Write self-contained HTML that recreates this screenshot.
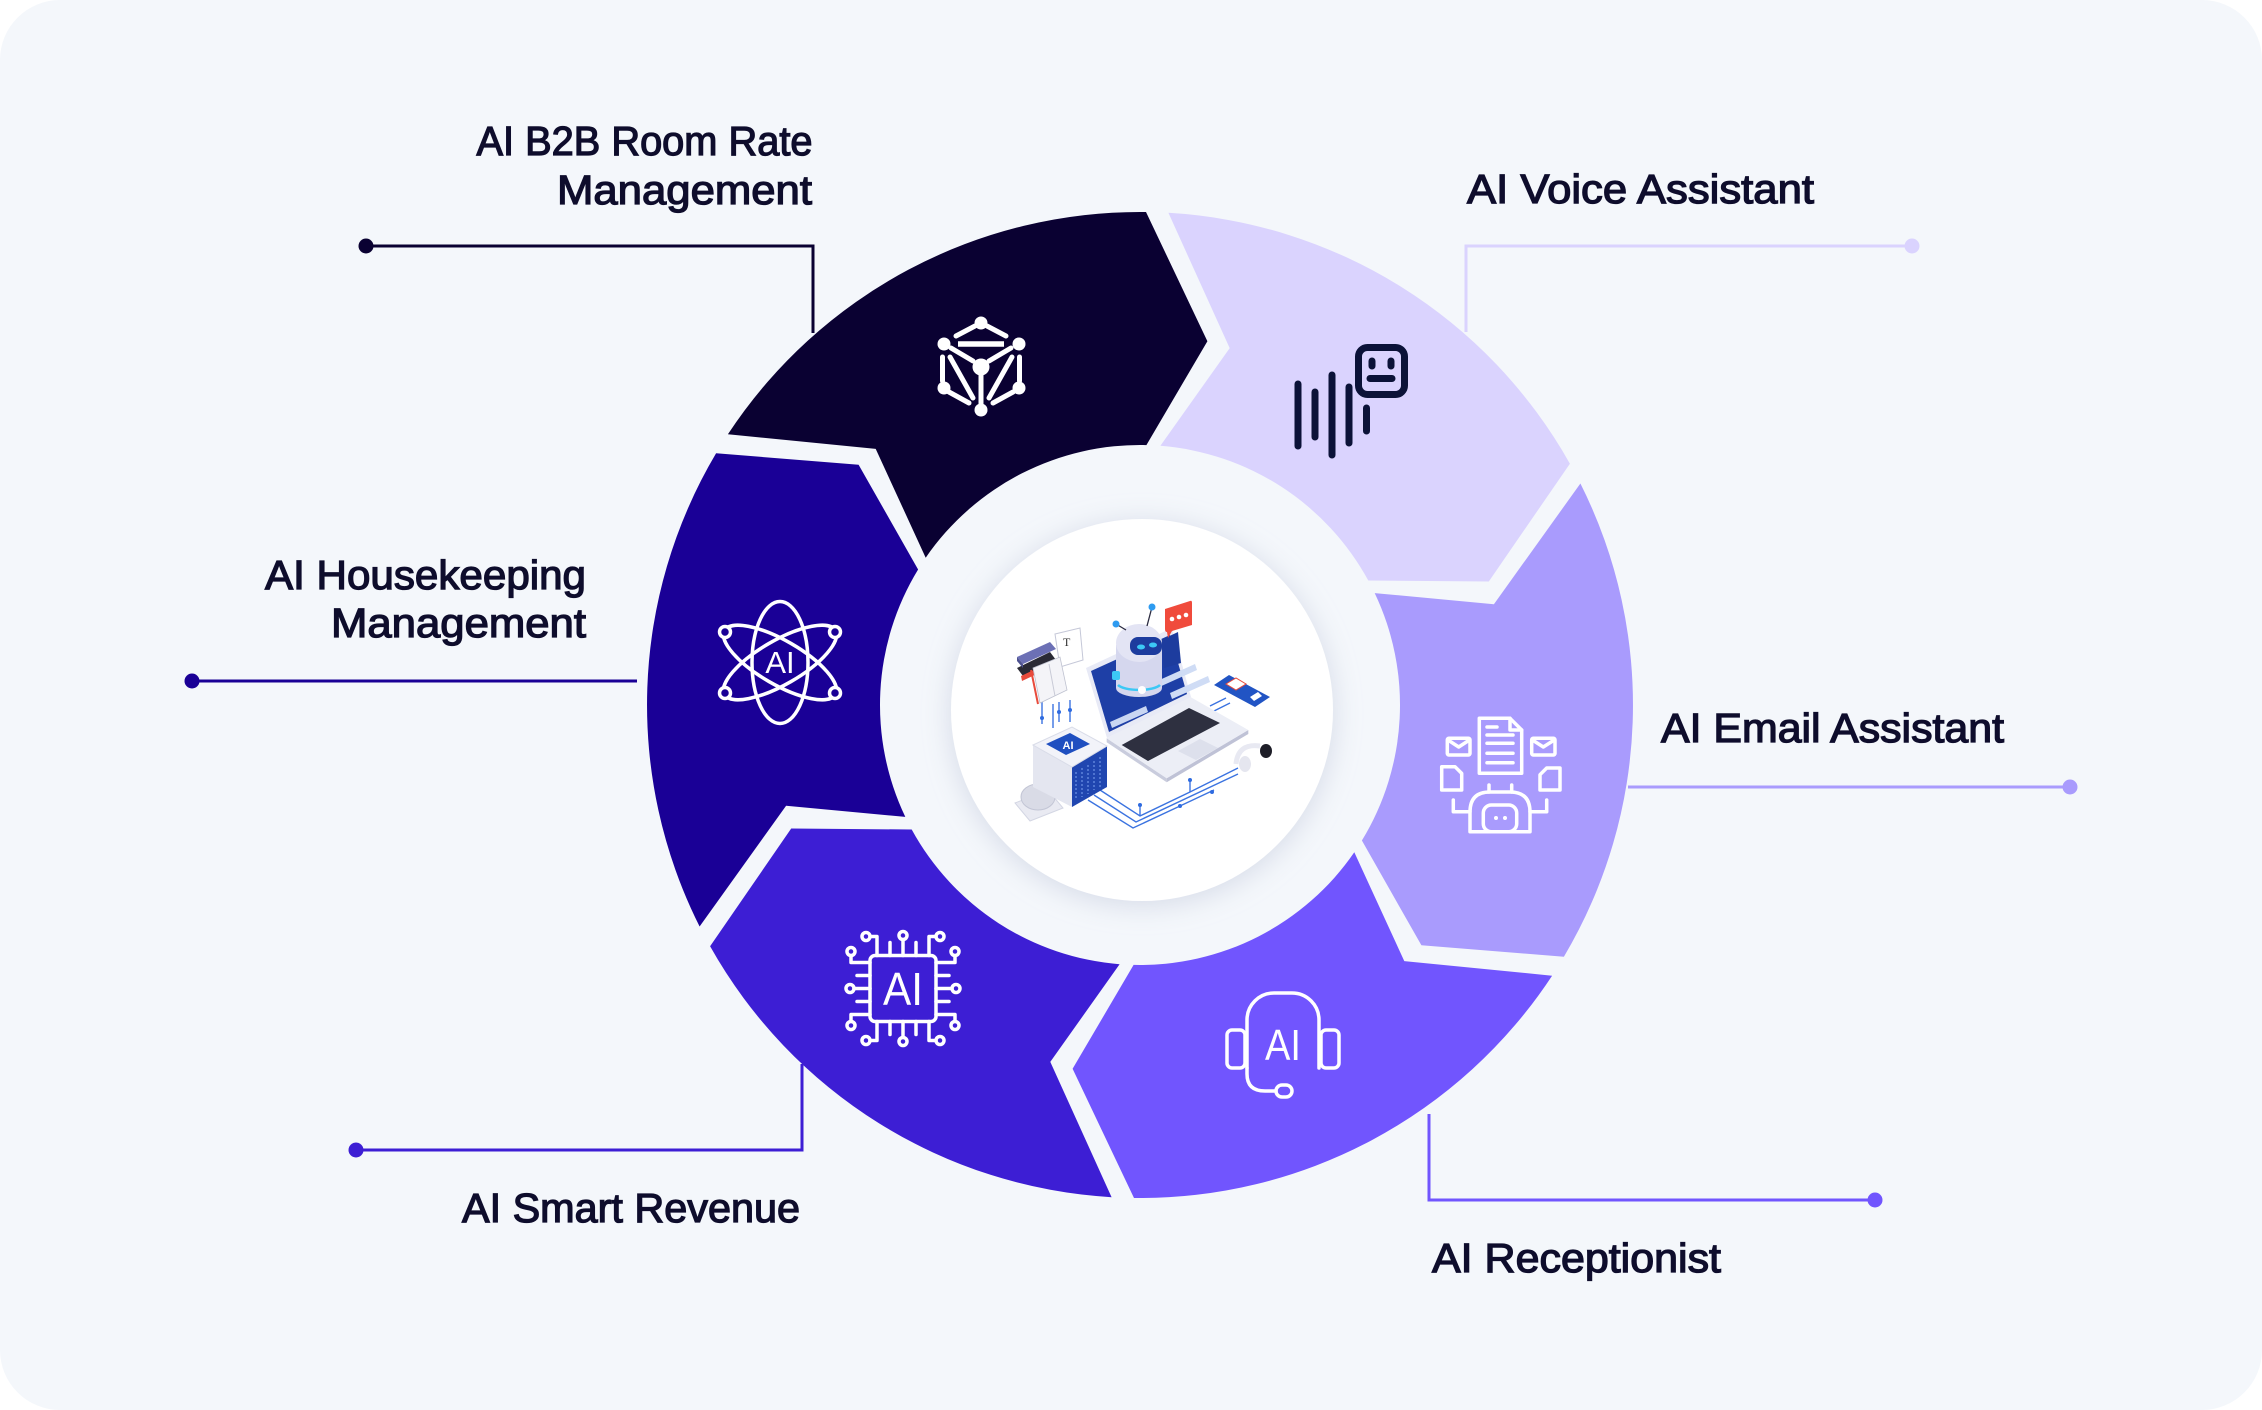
<!DOCTYPE html>
<html><head><meta charset="utf-8"><style>
html,body{margin:0;padding:0;background:#fff;width:2262px;height:1410px;overflow:hidden}
svg{display:block}
.lbl{font-family:"Liberation Sans",sans-serif;font-size:41px;fill:#0E0D2C;stroke:#0E0D2C;stroke-width:1.3px}
.ic{font-family:"Liberation Sans",sans-serif;fill:#fff}
</style></head><body>
<svg width="2262" height="1410" viewBox="0 0 2262 1410" xmlns="http://www.w3.org/2000/svg">
<defs>
<filter id="sh" x="-30%" y="-30%" width="160%" height="160%"><feDropShadow dx="0" dy="4" stdDeviation="14" flood-color="#AEB6CF" flood-opacity="0.45"/></filter>
</defs>
<rect x="0" y="0" width="2262" height="1410" rx="60" fill="#F4F7FB"/>

<!-- wheel segments -->
<path fill="#0A0132" d="M727.9 434.3 A493 493 0 0 1 1146.0 212.0 L1207.4 341.2 L1146.4 445.1 A260 260 0 0 0 925.7 557.7 L875.7 448.9 Z"/>
<path fill="#DAD3FE" d="M1168.4 212.8 A493 493 0 0 1 1569.9 463.7 L1488.8 581.5 L1368.3 580.5 A260 260 0 0 0 1160.4 445.8 L1229.7 348.1 Z"/>
<path fill="#A99BFD" d="M1580.4 483.5 A493 493 0 0 1 1563.9 956.7 L1421.4 945.3 L1361.9 840.5 A260 260 0 0 0 1374.7 593.1 L1493.9 604.2 Z"/>
<path fill="#7155FE" d="M1552.1 975.7 A493 493 0 0 1 1134.0 1198.0 L1072.6 1068.8 L1133.6 964.9 A260 260 0 0 0 1354.3 852.3 L1404.3 961.1 Z"/>
<path fill="#3D1ED4" d="M1111.6 1197.2 A493 493 0 0 1 710.1 946.3 L791.2 828.5 L911.7 829.5 A260 260 0 0 0 1119.6 964.2 L1050.3 1061.9 Z"/>
<path fill="#1A0096" d="M699.6 926.5 A493 493 0 0 1 716.1 453.3 L858.6 464.7 L918.1 569.5 A260 260 0 0 0 905.3 816.9 L786.1 805.8 Z"/>

<!-- center circle -->
<circle cx="1142" cy="710" r="191" fill="#fff" filter="url(#sh)"/>

<!-- connectors -->
<g fill="none" stroke-width="3">
<polyline points="366,246 813,246 813,333" stroke="#0A0132"/>
<polyline points="1466,332 1466,246 1912,246" stroke="#DAD3FE"/>
<line x1="1628" y1="787" x2="2070" y2="787" stroke="#A99BFD"/>
<polyline points="1429,1114 1429,1200 1875,1200" stroke="#7155FE"/>
<line x1="192" y1="681" x2="637" y2="681" stroke="#1A0096"/>
<polyline points="356,1150 802,1150 802,1064" stroke="#3D1ED4"/>
</g>
<circle cx="366" cy="246" r="7.5" fill="#0A0132"/>
<circle cx="1912" cy="246" r="7.5" fill="#DAD3FE"/>
<circle cx="2070" cy="787" r="7.5" fill="#A99BFD"/>
<circle cx="1875" cy="1200" r="7.5" fill="#7155FE"/>
<circle cx="192" cy="681" r="7.5" fill="#1A0096"/>
<circle cx="356" cy="1150" r="7.5" fill="#3D1ED4"/>

<!-- labels -->
<text class="lbl" x="476.5" y="155" textLength="336" lengthAdjust="spacingAndGlyphs">AI B2B Room Rate</text>
<text class="lbl" x="557" y="204" textLength="255" lengthAdjust="spacingAndGlyphs">Management</text>
<text class="lbl" x="265" y="589" textLength="321" lengthAdjust="spacingAndGlyphs">AI Housekeeping</text>
<text class="lbl" x="331" y="637" textLength="255" lengthAdjust="spacingAndGlyphs">Management</text>
<text class="lbl" x="462" y="1222" textLength="338" lengthAdjust="spacingAndGlyphs">AI Smart Revenue</text>
<text class="lbl" x="1467" y="203" textLength="347" lengthAdjust="spacingAndGlyphs">AI Voice Assistant</text>
<text class="lbl" x="1661" y="742" textLength="343" lengthAdjust="spacingAndGlyphs">AI Email Assistant</text>
<text class="lbl" x="1432" y="1272" textLength="289" lengthAdjust="spacingAndGlyphs">AI Receptionist</text>

<!-- navy icon: network cube -->
<g stroke="#fff" stroke-width="5" stroke-linecap="round" fill="none">
<line x1="956" y1="336" x2="975" y2="326"/>
<line x1="987" y1="326" x2="1006" y2="336"/>
<line x1="958" y1="344" x2="1004" y2="344" stroke-width="5.5" stroke-linecap="butt"/>
<line x1="951" y1="348" x2="973" y2="361"/>
<line x1="1011" y1="348" x2="989" y2="361"/>
<line x1="981" y1="370" x2="981" y2="404"/>
<line x1="942.5" y1="357" x2="942.5" y2="381"/>
<line x1="1019.5" y1="357" x2="1019.5" y2="381"/>
<line x1="949" y1="392" x2="969" y2="403"/>
<line x1="993" y1="403" x2="1013" y2="392"/>
<line x1="950" y1="357" x2="973" y2="398"/>
<line x1="1012" y1="357" x2="989" y2="398"/>
</g>
<g fill="#fff">
<circle cx="981" cy="323" r="6.5"/><circle cx="944" cy="344" r="6.5"/><circle cx="1019" cy="344" r="6.5"/>
<circle cx="981" cy="367" r="8.5"/><circle cx="944" cy="388" r="6.5"/><circle cx="1019" cy="388" r="6.5"/>
<circle cx="981" cy="410" r="6.5"/>
</g>

<!-- voice icon -->
<g stroke="#0B1238" stroke-width="7" stroke-linecap="round" fill="none">
<line x1="1298" y1="384" x2="1298" y2="446"/>
<line x1="1315" y1="392" x2="1315" y2="437"/>
<line x1="1332" y1="375" x2="1332" y2="455"/>
<line x1="1349" y1="387" x2="1349" y2="443"/>
<line x1="1366.5" y1="408" x2="1366.5" y2="431"/>
<rect x="1358.5" y="347.5" width="46" height="47" rx="9"/>
<line x1="1372" y1="361" x2="1372" y2="366"/>
<line x1="1391" y1="361" x2="1391" y2="366"/>
<line x1="1370" y1="378.5" x2="1392" y2="378.5"/>
</g>

<!-- email icon -->
<g stroke="#fff" stroke-width="3.5" fill="none" stroke-linecap="round" stroke-linejoin="round">
<path d="M1479.3 718.3 H1510 L1521.7 730 V773.3 H1479.3 Z"/>
<path d="M1510 718.3 V730 H1521.7"/>
<line x1="1487" y1="727" x2="1497" y2="727"/>
<line x1="1487" y1="735" x2="1513" y2="735"/>
<line x1="1487" y1="743.3" x2="1513" y2="743.3"/>
<line x1="1487" y1="753.3" x2="1513" y2="753.3"/>
<line x1="1487" y1="762.7" x2="1513" y2="762.7"/>
<rect x="1447.3" y="738.3" width="22.7" height="16.7" rx="1.5"/>
<polyline points="1448,740 1458.7,747 1469.5,740"/>
<rect x="1531.7" y="738.3" width="23.3" height="16.7" rx="1.5"/>
<polyline points="1532.4,740 1543.3,747 1554.3,740"/>
<path d="M1441.7 766.7 H1455 L1461.7 773.4 V790 H1441.7 Z"/>
<path d="M1560 768 H1546.7 L1540 774.7 V790 H1560 Z"/>
<path d="M1470 831.7 V812 Q1470 792 1490 792 H1510 Q1530 792 1530 812 V831.7 Z"/>
<rect x="1483.3" y="805" width="33.4" height="26.7" rx="8"/>
<line x1="1489" y1="785" x2="1489" y2="792"/>
<line x1="1511.7" y1="785" x2="1511.7" y2="792"/>
<polyline points="1453.3,800 1453.3,811.7 1470,811.7"/>
<polyline points="1546.7,800 1546.7,811.7 1530,811.7"/>
</g>
<circle cx="1496" cy="818" r="2" fill="#fff"/><circle cx="1505" cy="818" r="2" fill="#fff"/>

<!-- headset icon -->
<g stroke="#fff" stroke-width="3.5" fill="none" stroke-linecap="round" stroke-linejoin="round">
<path d="M1247 1068 V1020 A27 27 0 0 1 1274 993 H1292 A27 27 0 0 1 1319 1020 V1068"/>
<path d="M1247 1068 V1074 Q1247 1091 1265 1091 H1276"/>
<rect x="1276" y="1085" width="16" height="12" rx="6"/>
<rect x="1227" y="1030" width="18" height="38" rx="5"/>
<rect x="1321" y="1030" width="18" height="38" rx="5"/>
</g>
<text class="ic" x="1283" y="1060" font-size="44" text-anchor="middle" textLength="36" lengthAdjust="spacingAndGlyphs">AI</text>

<!-- chip icon -->
<g transform="translate(903,988.5)" stroke="#fff" stroke-width="3.5" fill="none" stroke-linecap="round" stroke-linejoin="round">
<rect x="-33" y="-33" width="66" height="66" rx="5"/>
<g id="pins">
<line x1="-13" y1="-33" x2="-13" y2="-46"/>
<line x1="13" y1="-33" x2="13" y2="-46"/>
<line x1="0" y1="-33" x2="0" y2="-49"/>
<circle cx="0" cy="-53" r="4"/>
<polyline points="-26,-33 -26,-52 -33,-52"/>
<circle cx="-37" cy="-52" r="4"/>
<polyline points="26,-33 26,-52 33,-52"/>
<circle cx="37" cy="-52" r="4"/>
</g>
<use href="#pins" transform="rotate(90)"/>
<use href="#pins" transform="rotate(180)"/>
<use href="#pins" transform="rotate(270)"/>
</g>
<text class="ic" x="903" y="1005" font-size="46" text-anchor="middle" textLength="40" lengthAdjust="spacingAndGlyphs">AI</text>

<!-- atom icon -->
<g stroke="#fff" stroke-width="3.5" fill="none">
<ellipse cx="780" cy="662.5" rx="28" ry="61"/>
<ellipse cx="780" cy="662.5" rx="64" ry="22" transform="rotate(30 780 662.5)"/>
<ellipse cx="780" cy="662.5" rx="64" ry="22" transform="rotate(-30 780 662.5)"/>
</g>
<g stroke="#fff" stroke-width="3.5" fill="#1A0096">
<circle cx="725" cy="632" r="5.5"/><circle cx="835" cy="632" r="5.5"/>
<circle cx="725" cy="693" r="5.5"/><circle cx="835" cy="693" r="5.5"/>
</g>
<text class="ic" x="780" y="673" font-size="31" text-anchor="middle">AI</text>

<!-- center illustration -->
<g>
<g stroke="#3B73E0" stroke-width="1.4" fill="none">
<polyline points="1100,790 1140,816 1190,792 1238,768"/>
<polyline points="1094,795 1136,822 1238,774"/>
<polyline points="1088,800 1133,828 1180,806 1214,790"/>
<polyline points="1140,816 1140,805"/>
<polyline points="1190,792 1190,780"/>
<line x1="1042" y1="702" x2="1042" y2="724"/>
<line x1="1053" y1="704" x2="1053" y2="728"/>
<line x1="1059" y1="702" x2="1059" y2="722"/>
<line x1="1070" y1="700" x2="1070" y2="722"/>
<line x1="1210" y1="706" x2="1226" y2="698"/>
<line x1="1214" y1="711" x2="1230" y2="703"/>
</g>
<g fill="#2F6BE0">
<circle cx="1140" cy="805" r="2"/><circle cx="1190" cy="780" r="2"/><circle cx="1180" cy="806" r="2"/>
<circle cx="1042" cy="718" r="2"/><circle cx="1059" cy="712" r="2"/><circle cx="1070" cy="710" r="2"/>
<circle cx="1212" cy="792" r="2"/>
</g>
<polygon points="1015,803 1048,790 1063,808 1030,821" fill="#E9EAF2" stroke="#D3D6E3"/>
<ellipse cx="1038" cy="797" rx="17" ry="13" fill="#D9DBE6" stroke="#C2C5D5"/>
<polygon points="1033,745 1072,767 1072,807 1033,787" fill="#E4E6F0"/>
<polygon points="1072,767 1107,746 1107,787 1072,807" fill="#2046B0"/>
<g stroke="#6E93E6" stroke-width="1.2" stroke-dasharray="2 2">
<line x1="1076" y1="772" x2="1076" y2="800"/><line x1="1082" y1="768" x2="1082" y2="797"/>
<line x1="1088" y1="765" x2="1088" y2="794"/><line x1="1094" y1="761" x2="1094" y2="790"/>
<line x1="1100" y1="757" x2="1100" y2="787"/>
</g>
<polygon points="1033,745 1072,727 1107,746 1072,767" fill="#F2F3F9" stroke="#D9DCE8"/>
<polygon points="1046,744 1070,733 1090,744 1066,755" fill="#1F4FC0"/>
<text x="1068" y="749" font-family="Liberation Sans, sans-serif" font-size="11" font-weight="bold" fill="#fff" text-anchor="middle">AI</text>
<polygon points="1017,668 1050,652 1056,660 1023,676" fill="#2A2A35"/>
<polygon points="1021,676 1055,660 1056,665 1022,681" fill="#E84B3C"/>
<polygon points="1017,657 1050,642 1056,649 1023,664" fill="#6C70B5"/>
<polygon points="1017,657 1023,664 1023,668 1017,661" fill="#4E5290"/>
<polygon points="1055,634 1080,628 1083,660 1060,667" fill="#fff" stroke="#C5C8D8"/>
<text x="1063" y="646" font-family="Liberation Serif, serif" font-size="12" fill="#333">T</text>
<polygon points="1033,668 1060,657 1067,690 1040,703" fill="#F4F4F8" stroke="#BFC2D0" stroke-width="0.8"/>
<line x1="1031" y1="670" x2="1038" y2="704" stroke="#E84B3C" stroke-width="2"/>
<line x1="1049" y1="664" x2="1055" y2="696" stroke="#C8CAD6" stroke-width="1"/>
<polygon points="1106.7,738.3 1166.7,778.3 1166.7,782.3 1106.7,742.3" fill="#C9CCDD"/>
<polygon points="1166.7,778.3 1248.3,730 1248.3,734 1166.7,782.3" fill="#BFC2D6"/>
<polygon points="1106.7,738.3 1190,696.7 1248.3,730 1166.7,778.3" fill="#ECEEF6"/>
<polygon points="1121.7,745 1189,708 1220,723 1148,761" fill="#2E3040"/>
<polygon points="1178,751 1200,739 1218,748 1196,760" fill="#DDE0EC"/>
<polygon points="1086,668 1172,628 1191,697 1107,738" fill="#E8EAF6"/>
<polygon points="1091,671 1170,635 1187,694 1109,732" fill="#1E3FA6"/>
<polygon points="1110,722 1146,706 1148,712 1112,728" fill="#C9D6F2"/>
<polygon points="1155,682 1195,664 1197,670 1157,688" fill="#CFDCF5"/>
<polygon points="1170,693 1208,676 1210,682 1172,699" fill="#CFDCF5"/>
<polygon points="1161,640 1178,632 1181,663 1164,668" fill="#1D3C9E"/>
<path d="M1116 645 V688 A23 9 0 0 0 1162 688 V645 Z" fill="#D5D7EE"/>
<ellipse cx="1139" cy="643" rx="23" ry="19" fill="#E3E4F4"/>
<rect x="1130" y="637" width="32" height="18" rx="8" fill="#1D3C9E"/>
<ellipse cx="1141" cy="647" rx="4" ry="2.5" fill="#3CC8F5"/>
<ellipse cx="1153" cy="645" rx="4" ry="2.5" fill="#3CC8F5"/>
<path d="M1118 685 A22 7 0 0 0 1160 685" stroke="#3CC8F5" stroke-width="2.5" fill="none"/>
<rect x="1112" y="671" width="8" height="9" rx="2" fill="#3CC8F5"/>
<circle cx="1142" cy="690" r="4" fill="#fff"/>
<line x1="1126" y1="630" x2="1116" y2="624" stroke="#2A2A40" stroke-width="1.3"/>
<line x1="1147" y1="626" x2="1152" y2="607" stroke="#2A2A40" stroke-width="1.3"/>
<circle cx="1116" cy="624" r="3.5" fill="#2E9BF0"/>
<circle cx="1152" cy="607" r="3.5" fill="#2E9BF0"/>
<path d="M1165 609 L1190 601 Q1192 600 1192 603 L1192 625 L1172 631 L1168 638 L1167 632 Q1165 632 1165 629 Z" fill="#F04B3C"/>
<circle cx="1172" cy="619" r="2.3" fill="#fff"/><circle cx="1179" cy="617" r="2.3" fill="#fff"/><circle cx="1186" cy="615" r="2.3" fill="#fff"/>
<polygon points="1210,685 1229,672 1274,697 1255,711" fill="#fff"/>
<polygon points="1214,685 1229,675 1270,697 1255,707" fill="#2154C4"/>
<polygon points="1226,684 1236,678 1246,684 1236,690" fill="#fff" stroke="#E84B3C"/>
<polygon points="1250,697 1258,692 1262,696 1254,701" fill="#fff"/>
<path d="M1236 764 Q1238 743 1260 746" stroke="#E8E9F2" stroke-width="5" fill="none"/>
<ellipse cx="1245" cy="764" rx="6" ry="8" fill="#E5E6EF"/>
<ellipse cx="1266" cy="751" rx="6" ry="7" fill="#1E1E28"/>
</g>
</svg>
</body></html>
